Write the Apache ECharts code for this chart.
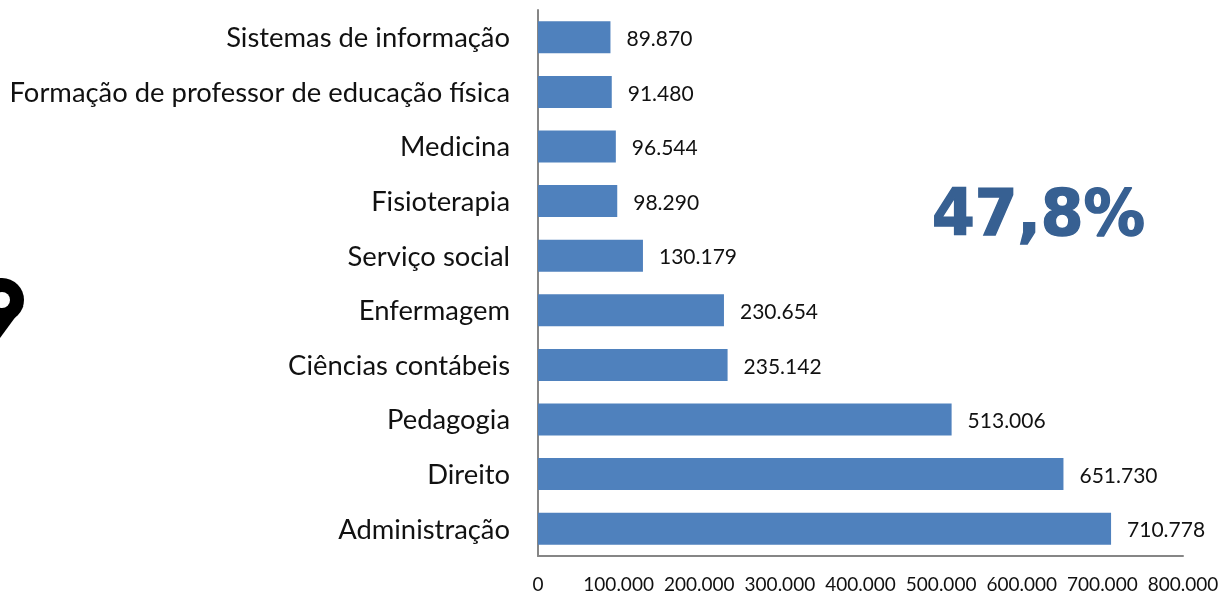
<!DOCTYPE html>
<html><head><meta charset="utf-8">
<style>html,body{margin:0;padding:0;background:#fff}#c{width:1220px;height:592px}</style>
<script src="https://cdn.jsdelivr.net/npm/echarts@6/dist/echarts.min.js"></script></head>
<body><div id="c"></div>
<script>
const categories = ["Administração","Direito","Pedagogia","Ciências contábeis","Enfermagem","Serviço social","Fisioterapia","Medicina","Formação de professor de educação física","Sistemas de informação"];
const values = [710778,651730,513006,235142,230654,130179,98290,96544,91480,89870];
const axisMax = 800000, axisStep = 100000;
const callout = "47,8%";
const fmt = v => v === 0 ? "0" : String(v).replace(/\B(?=(\d{3})+$)/g, ".");
const chart = echarts.init(document.getElementById('c'), null, {renderer:'canvas'});
chart.setOption({
  animation:false,
  backgroundColor:'#fff',
  grid:{left:538,top:10,width:645,height:546,outerBoundsMode:'none'},
  xAxis:{type:'value',min:0,max:axisMax,interval:axisStep,splitLine:{show:false},
    axisLine:{show:true,lineStyle:{color:'#868686',width:2}},axisTick:{show:false},
    axisLabel:{formatter:fmt,color:'#111',fontFamily:'Lato',fontSize:19,margin:19,hideOverlap:false}},
  yAxis:{type:'category',data:categories,
    axisLine:{show:true,lineStyle:{color:'#868686',width:2}},axisTick:{show:false},
    axisLabel:{color:'#111',fontFamily:'Lato',fontSize:27.4,margin:28,verticalAlign:'top',lineHeight:2}},
  series:[{type:'bar',data:values,barWidth:32,itemStyle:{color:'#4f81bd'},
    label:{show:true,position:'right',distance:16,formatter:p=>fmt(p.value),color:'#111',fontFamily:'Lato',fontSize:21,verticalAlign:'top',lineHeight:4}}],
  graphic:[
    {type:'text',x:932,y:186,scaleX:0.96,style:{text:callout,fill:'#376092',stroke:'#376092',lineWidth:1.5,font:'bold 64px "DejaVu Sans"'}},
    {type:'polygon',shape:{points:[[23.5,306],[0,338],[-20,338],[-20,300]]},style:{fill:'#000'}},
    {type:'circle',shape:{cx:2,cy:300,r:22},style:{fill:'#000'}},
    {type:'circle',shape:{cx:2,cy:300,r:8},style:{fill:'#fff'}}
  ]
});
</script></body></html>
